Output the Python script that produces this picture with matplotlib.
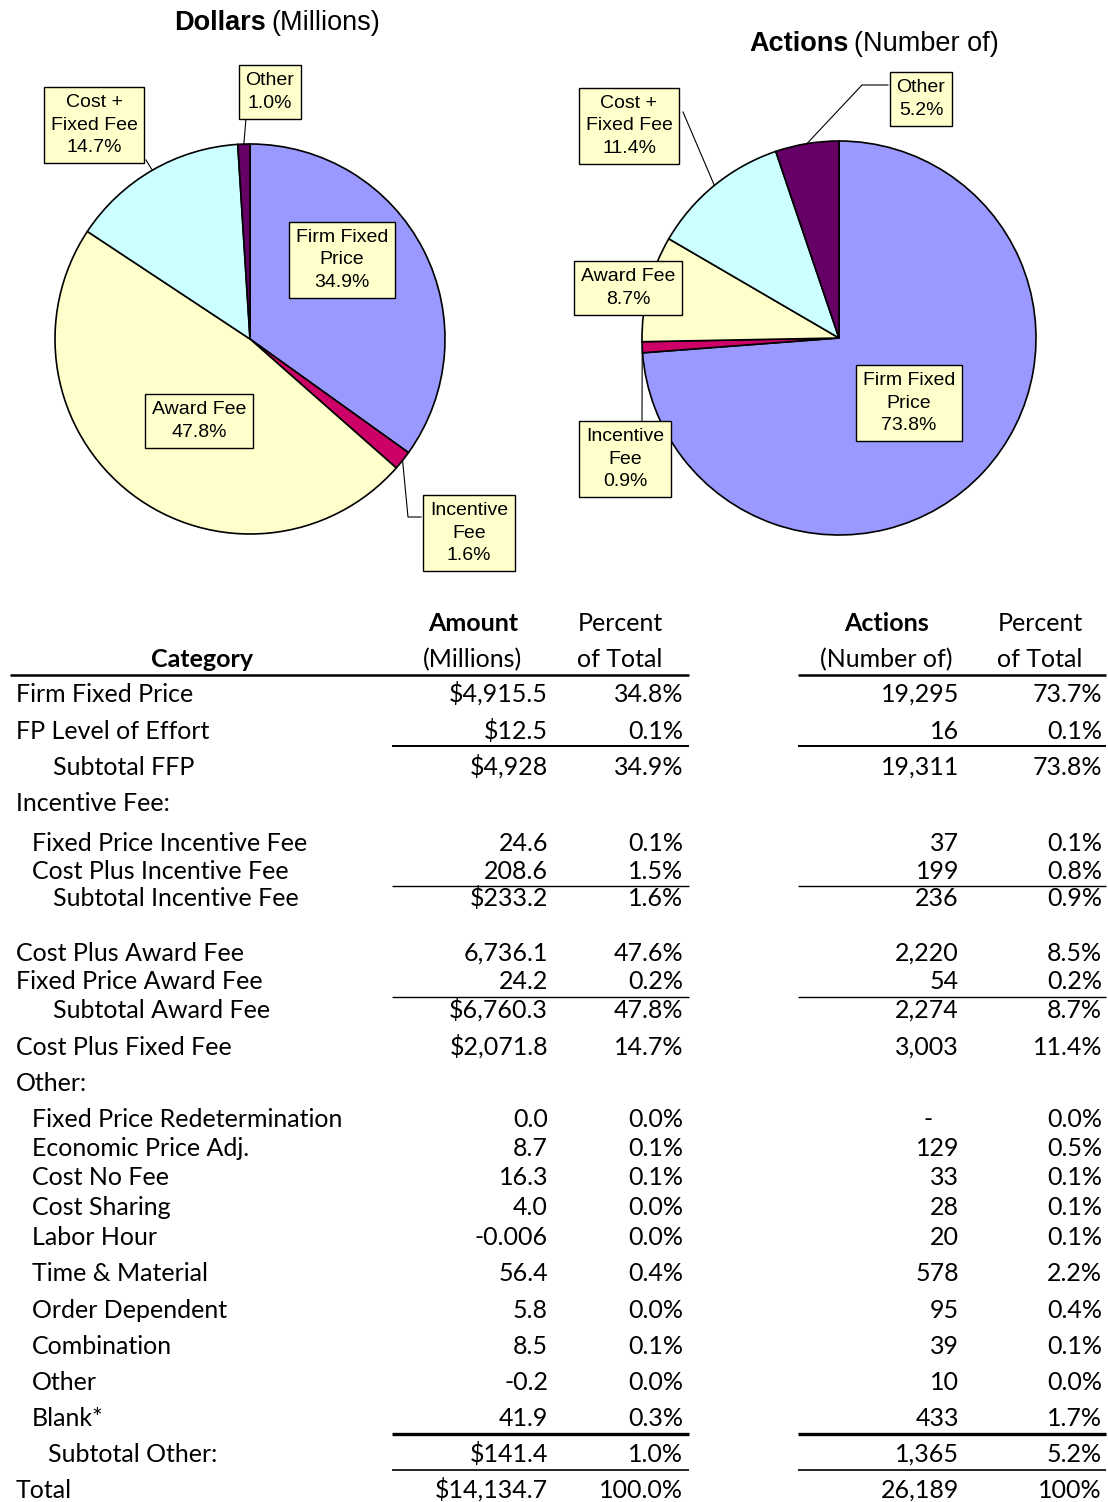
import numpy as np
import matplotlib
matplotlib.use("Agg")
import matplotlib.pyplot as plt

plt.rcParams['text.parse_math'] = False

W, H = 1108, 1502

# pie data
slice_names = ["Firm Fixed\nPrice", "Incentive\nFee", "Award Fee", "Cost +\nFixed Fee", "Other"]
slice_colors = ["#9999FF", "#CC0066", "#FFFFCC", "#CCFFFF", "#660066"]
dollar_pct = [34.9, 1.6, 47.8, 14.7, 1.0]
action_pct = [73.8, 0.9, 8.7, 11.4, 5.2]

# table data
categories = ["Firm Fixed Price", "FP Level of Effort", "Subtotal FFP", "Incentive Fee:",
              "Fixed Price Incentive Fee", "Cost Plus Incentive Fee", "Subtotal Incentive Fee",
              "Cost Plus Award Fee", "Fixed Price Award Fee", "Subtotal Award Fee",
              "Cost Plus Fixed Fee", "Other:", "Fixed Price Redetermination",
              "Economic Price Adj.", "Cost No Fee", "Cost Sharing", "Labor Hour",
              "Time & Material", "Order Dependent", "Combination", "Other", "Blank*",
              "Subtotal Other:", "Total"]
indent = [0, 0, 2, 0, 1, 1, 2, 0, 0, 2, 0, 0, 1, 1, 1, 1, 1, 1, 1, 1, 1, 1, 3, 0]
amounts = ["$4,915.5", "$12.5", "$4,928", "", "24.6", "208.6", "$233.2", "6,736.1", "24.2",
           "$6,760.3", "$2,071.8", "", "0.0", "8.7", "16.3", "4.0", "-0.006", "56.4", "5.8",
           "8.5", "-0.2", "41.9", "$141.4", "$14,134.7"]
amount_pct = ["34.8%", "0.1%", "34.9%", "", "0.1%", "1.5%", "1.6%", "47.6%", "0.2%", "47.8%",
              "14.7%", "", "0.0%", "0.1%", "0.1%", "0.0%", "0.0%", "0.4%", "0.0%", "0.1%",
              "0.0%", "0.3%", "1.0%", "100.0%"]
actions = ["19,295", "16", "19,311", "", "37", "199", "236", "2,220", "54", "2,274", "3,003",
           "", "-", "129", "33", "28", "20", "578", "95", "39", "10", "433", "1,365", "26,189"]
actions_pct = ["73.7%", "0.1%", "73.8%", "", "0.1%", "0.8%", "0.9%", "8.5%", "0.2%", "8.7%",
               "11.4%", "", "0.0%", "0.5%", "0.1%", "0.1%", "0.1%", "2.2%", "0.4%", "0.1%",
               "0.0%", "1.7%", "5.2%", "100%"]

# layout (pixels)
row_y = [694, 731, 767, 803, 843, 871, 898, 953, 981, 1010, 1047, 1083, 1119, 1148, 1177,
         1207, 1237, 1273, 1310, 1346, 1382, 1418, 1454, 1490]
indent_x = [16, 32, 53, 48]
col_right = [548, 683, 959, 1102]

fig = plt.figure(figsize=(W / 100, H / 100), dpi=100)
ax = fig.add_axes([0, 0, 1, 1])

LBL = "Liberation Sans"
TBL = "Lato"
box = dict(boxstyle="square,pad=0.35", fc="#FFFFCC", ec="black", lw=1.0)


def edge_point(cx, cy, r, pcts, i):
    # point on the rim at the middle of slice i (clockwise from top, y down)
    start = sum(pcts[:i])
    mid = (start + pcts[i] / 2) / 100 * 2 * np.pi
    return cx + r * np.sin(mid), cy - r * np.cos(mid)


def draw_pie(cx, cy, r, pcts):
    ax.pie(pcts, colors=slice_colors, startangle=-90, counterclock=True,
           center=(cx, cy), radius=r,
           wedgeprops=dict(edgecolor="black", linewidth=1.2))


# ---- left pie: dollars
lcx, lcy, lr = 250, 339, 195
draw_pie(lcx, lcy, lr, dollar_pct)
# ---- right pie: actions
rcx, rcy, rr = 839, 338, 197
draw_pie(rcx, rcy, rr, action_pct)

ax.set_xlim(0, W)
ax.set_ylim(H, 0)
ax.set_aspect("auto")
ax.axis("off")


def plabel(x, y, i, pcts):
    ax.text(x, y, f"{slice_names[i]}\n{pcts[i]:.1f}%", ha="center", va="center",
            fontsize=14, family=LBL, linespacing=1.45, bbox=box, zorder=5)


def leader(pts):
    xs, ys = zip(*pts)
    ax.plot(xs, ys, color="black", lw=0.8, zorder=4)


# left labels
plabel(342, 260, 0, dollar_pct)
plabel(469, 533, 1, dollar_pct)
plabel(199, 421, 2, dollar_pct)
plabel(94, 125, 3, dollar_pct)
plabel(270, 92, 4, dollar_pct)
leader([edge_point(lcx, lcy, lr, dollar_pct, 1), (408, 517), (421, 517)])
leader([edge_point(lcx, lcy, lr, dollar_pct, 3), (146, 160)])
leader([edge_point(lcx, lcy, lr, dollar_pct, 4), (246, 118)])

# right labels
plabel(909, 403, 0, action_pct)
plabel(625, 459, 1, action_pct)
plabel(628, 288, 2, action_pct)
plabel(629, 126, 3, action_pct)
plabel(921, 99, 4, action_pct)
leader([edge_point(rcx, rcy, rr, action_pct, 1), (642, 421)])
leader([edge_point(rcx, rcy, rr, action_pct, 3), (683, 112)])
leader([edge_point(rcx, rcy, rr, action_pct, 4), (862, 85), (888, 85)])

# titles
ax.text(266, 23, "Dollars", ha="right", va="center", fontsize=19.5, weight="bold", family=LBL)
ax.text(271, 23, "(Millions)", ha="left", va="center", fontsize=19.5, family=LBL)
ax.text(849, 44, "Actions", ha="right", va="center", fontsize=19.5, weight="bold", family=LBL)
ax.text(854, 44, "(Number of)", ha="left", va="center", fontsize=19.5, family=LBL)

# ---- table (baseline aligned so "$" descenders don't shift rows)
fs = 18
bl = 8


def ttext(x, y, s, ha, bold=False):
    ax.text(x, y + bl, s, ha=ha, va="baseline", fontsize=fs, family=TBL,
            weight="bold" if bold else "normal")


ttext(202, 659, "Category", "center", True)
ttext(473, 623, "Amount", "center", True)
ttext(472, 659, "(Millions)", "center")
ttext(620, 623, "Percent", "center")
ttext(620, 659, "of Total", "center")
ttext(887, 623, "Actions", "center", True)
ttext(886, 659, "(Number of)", "center")
ttext(1040, 623, "Percent", "center")
ttext(1040, 659, "of Total", "center")

for i, name in enumerate(categories):
    y = row_y[i]
    ttext(indent_x[indent[i]], y, name, "left")
    for col, vals in zip(col_right, [amounts, amount_pct, actions, actions_pct]):
        v = vals[i]
        if not v:
            continue
        if v == "-":
            ttext(col - 31, y, v, "center")
        else:
            ttext(col, y, v, "right")

# rules: y, left start, linewidth
rules = [(675, 10, 1.8), (746, 392, 1.4), (886, 392, 1.0), (997, 392, 1.0),
         (1434, 392, 2.4), (1470, 392, 1.2)]
for y, x0, lw in rules:
    ax.plot([x0, 689], [y, y], color="black", lw=lw, solid_capstyle="butt")
    ax.plot([798, 1106], [y, y], color="black", lw=lw, solid_capstyle="butt")

fig.savefig("out.png", dpi=100)
